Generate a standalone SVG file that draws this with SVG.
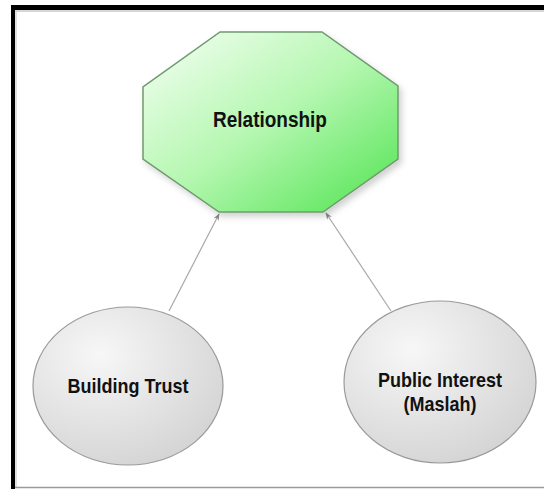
<svg xmlns="http://www.w3.org/2000/svg" width="544" height="489" viewBox="0 0 544 489">
  <defs>
    <linearGradient id="gGreen" x1="0" y1="0" x2="1" y2="1">
      <stop offset="0" stop-color="#f6fff4"/>
      <stop offset="0.5" stop-color="#b4f7b0"/>
      <stop offset="1" stop-color="#4fe34f"/>
    </linearGradient>
    <radialGradient id="gGray" cx="0.35" cy="0.3" r="0.8">
      <stop offset="0" stop-color="#f7f7f7"/>
      <stop offset="1" stop-color="#d2d2d2"/>
    </radialGradient>
    <filter id="shadow" x="-10%" y="-10%" width="130%" height="130%">
      <feDropShadow dx="3" dy="4" stdDeviation="3" flood-color="#000" flood-opacity="0.18"/>
    </filter>
    <marker id="arrow" viewBox="0 0 10 10" refX="9" refY="5" markerWidth="7" markerHeight="7" orient="auto" markerUnits="userSpaceOnUse">
      <path d="M0,1 L10,5 L0,9 L3,5 Z" fill="#8a8a8a"/>
    </marker>
  </defs>
  <style>
    .lbl { font-family: "Liberation Sans", Arial, sans-serif; font-weight: bold; fill: #111; text-anchor: middle; }
    .edge { stroke: #a8a8a8; stroke-width: 1.2; fill: none; marker-end: url(#arrow); }
    .oval { fill: url(#gGray); stroke: #9a9a9a; stroke-width: 1.2; }
  </style>
  <rect x="0" y="0" width="544" height="489" fill="#ffffff"/>
  <g id="frame">
    <line x1="11" y1="7.5" x2="544" y2="7.5" stroke="#000" stroke-width="5"/>
    <line x1="13" y1="5" x2="13" y2="489" stroke="#000" stroke-width="4"/>
    <line x1="15" y1="11" x2="544" y2="11" stroke="#c8c8c8" stroke-width="1.5"/>
    <line x1="16" y1="11" x2="16" y2="487" stroke="#d8d8d8" stroke-width="1.5"/>
    <line x1="15" y1="487.5" x2="544" y2="487.5" stroke="#9a9a9a" stroke-width="1.5"/>
  </g>
  <g id="connectors">
    <line class="edge" x1="169" y1="311" x2="219" y2="214"/>
    <line class="edge" x1="391" y1="311" x2="326" y2="213"/>
  </g>
  <g id="node-relationship">
    <polygon points="220,32 322,32 398,86 398,159 323,212 219,212 143,159 143,87" fill="url(#gGreen)" stroke="#6f9a6f" stroke-width="1.5" filter="url(#shadow)"/>
    <text class="lbl" font-size="19" transform="translate(270,127) scale(1,1.17)">Relationship</text>
  </g>
  <g id="node-building-trust">
    <ellipse class="oval" cx="128" cy="386" rx="95" ry="79"/>
    <text class="lbl" font-size="18" transform="translate(128,393) scale(1,1.16)">Building Trust</text>
  </g>
  <g id="node-public-interest">
    <ellipse class="oval" cx="440" cy="382" rx="96" ry="81"/>
    <text class="lbl" font-size="18" transform="translate(440,387) scale(1,1.16)">Public Interest</text>
    <text class="lbl" font-size="18" transform="translate(440,411) scale(1,1.16)">(Maslah)</text>
  </g>
</svg>
